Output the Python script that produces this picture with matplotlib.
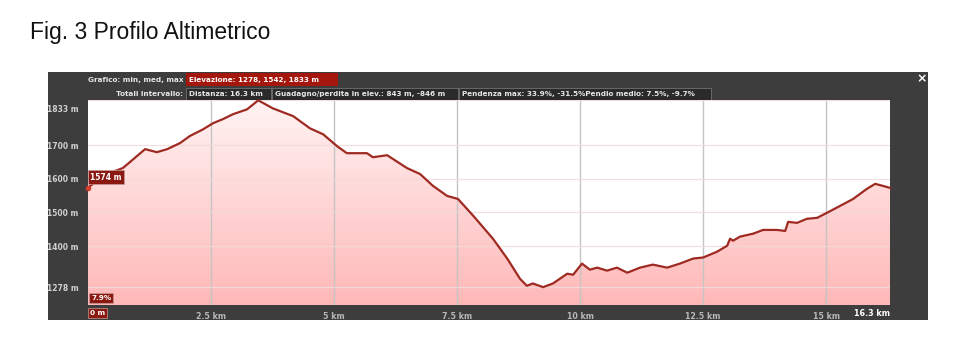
import matplotlib
matplotlib.use('Agg')
import matplotlib.pyplot as plt
import numpy as np
from matplotlib.patches import Rectangle, Polygon
from matplotlib.colors import LinearSegmentedColormap
import matplotlib.transforms as mtransforms

# ---------------- data ----------------
title = "Fig. 3 Profilo Altimetrico"
dist_km = [0, 0.24, 0.55, 0.71, 1.16, 1.40, 1.61, 1.87, 2.07, 2.34,
           2.54, 2.74, 2.95, 3.23, 3.46, 3.76, 4.17, 4.51, 4.78, 5.06,
           5.26, 5.67, 5.79, 6.08, 6.48, 6.75, 7.01, 7.30, 7.52, 7.83,
           8.23, 8.52, 8.78, 8.92, 9.04, 9.25, 9.45, 9.74, 9.86, 10.04,
           10.20, 10.35, 10.55, 10.75, 10.96, 11.22, 11.48, 11.77, 12.03, 12.30,
           12.50, 12.78, 12.99, 13.05, 13.11, 13.25, 13.52, 13.72, 14.00, 14.17,
           14.23, 14.41, 14.61, 14.82, 15.02, 15.28, 15.55, 15.83, 16.00, 16.30]
elev_m = [1574, 1599, 1623, 1632, 1688, 1679, 1688, 1706, 1727, 1747,
          1765, 1777, 1792, 1806, 1833, 1809, 1786, 1750, 1732, 1697,
          1676, 1676, 1664, 1670, 1632, 1614, 1579, 1549, 1540, 1490,
          1422, 1363, 1303, 1282, 1289, 1278, 1289, 1318, 1315, 1348,
          1330, 1336, 1327, 1336, 1321, 1336, 1345, 1336, 1348, 1363,
          1366, 1383, 1401, 1422, 1416, 1428, 1437, 1448, 1448, 1445,
          1472, 1469, 1481, 1484, 1499, 1519, 1540, 1570, 1585, 1573]
y_ticks = [1278, 1400, 1500, 1600, 1700, 1833]
x_ticks = [2.5, 5, 7.5, 10, 12.5, 15]
x_tick_labels = ["2.5 km", "5 km", "7.5 km", "10 km", "12.5 km", "15 km"]
total_km = 16.3
start_label = "0 m"
end_label = "16.3 km"
start_grade = "7.9%"
header1_label = "Grafico: min, med, max"
header1_value = "Elevazione: 1278, 1542, 1833 m"
header2_label = "Totali intervallo:"
header2_values = ["Distanza: 16.3 km",
                  "Guadagno/perdita in elev.: 843 m, -846 m",
                  "Pendenza max: 33.9%, -31.5%Pendio medio: 7.5%, -9.7%"]

# ---------------- figure ----------------
W, H = 972, 356
fig = plt.figure(figsize=(W / 100, H / 100), dpi=100)
fig.patch.set_facecolor('white')

SMALL = dict(family='DejaVu Sans', fontsize=5.2, fontweight='bold')

bg = fig.add_axes([0, 0, 1, 1], zorder=0)
bg.set_xlim(0, W)
bg.set_ylim(H, 0)
bg.axis('off')

bg.text(30, 39.5, title, fontsize=16.5, family='Liberation Sans', va='baseline', ha='left',
        color='#111111')

# dark panel
bg.add_patch(Rectangle((48, 72), 880, 248, facecolor='#3d3d3d', edgecolor='none'))

# header row 1
bg.text(88, 80, header1_label, color='#e6e6e6', va='center', ha='left', **SMALL)
bg.add_patch(Rectangle((186, 73), 152, 13, facecolor='#a5170c', edgecolor='none'))
bg.text(189, 80, header1_value, color='white', va='center', ha='left', **SMALL)

# header row 2
bg.text(183, 94, header2_label, color='#e6e6e6', va='center', ha='right', **SMALL)
box_x = [(186, 85), (272, 186), (459, 252)]
for (bx, bw), txt in zip(box_x, header2_values):
    bg.add_patch(Rectangle((bx, 88), bw, 12, facecolor='#2a2a2a', edgecolor='#707070', lw=0.6))
    bg.text(bx + 3, 94, txt, color='#e6e6e6', va='center', ha='left', **SMALL)

bg.text(922, 79, "\u00d7", color='white', fontsize=9, fontweight='bold', ha='center', va='center')

# ---------------- main plot ----------------
ax = fig.add_axes([88 / W, 1 - 305 / H, 802 / W, 205 / H], zorder=1)
ymin, ymax = 1225, 1834
ax.set_xlim(0, total_km)
ax.set_ylim(ymin, ymax)
ax.set_facecolor('white')
for s in ax.spines.values():
    s.set_visible(False)

# gradient fill under profile
grad = np.linspace(0, 1, 256).reshape(-1, 1)
cmap = LinearSegmentedColormap.from_list('pinkgrad', ['#fff3f3', '#ffb8b8'])
im = ax.imshow(grad, extent=[0, total_km, ymin, ymax], origin='upper', aspect='auto',
               cmap=cmap, zorder=1, interpolation='bilinear')
verts = list(zip(dist_km, elev_m)) + [(total_km, ymin), (0, ymin)]
poly = Polygon(verts, closed=True, facecolor='none', edgecolor='none', transform=ax.transData)
ax.add_patch(poly)
im.set_clip_path(poly)

# grid
for xv in x_ticks:
    ax.axvline(xv, color='#c4c4c4', lw=1.0, zorder=2)
for yv in y_ticks:
    ax.axhline(yv, color='#f0dada', lw=0.9, zorder=2, alpha=0.85)

ax.plot(dist_km, elev_m, color='#9e2a22', lw=1.6, zorder=4, clip_on=False,
        solid_joinstyle='round')
ax.plot(dist_km[0], elev_m[0], marker='o', ms=3, color='#d23c2c', zorder=5, clip_on=False)

# ticks
ax.set_xticks(x_ticks)
ax.set_xticklabels(x_tick_labels)
ax.set_yticks(y_ticks)
ax.set_yticklabels([f"{v} m" for v in y_ticks])
ax.tick_params(axis='both', length=0)
ax.tick_params(axis='x', pad=5, labelcolor='#b8b8b8', labelsize=5.7)
ax.tick_params(axis='y', pad=7, labelcolor='#d0d0d0', labelsize=5.5)
for lab in ax.get_xticklabels() + ax.get_yticklabels():
    lab.set_fontweight('bold')
# shift top label down inside panel
top_lab = ax.get_yticklabels()[-1]
top_lab.set_transform(top_lab.get_transform() +
                      mtransforms.ScaledTranslation(0, -8 / 100, fig.dpi_scale_trans))

box_style = dict(boxstyle='square,pad=0.3', fc='#8a1a11', ec='#c89a9a', lw=0.5)
ax.annotate(f"{elev_m[0]} m", xy=(dist_km[0], elev_m[0]), xytext=(2, 6),
            textcoords='offset pixels', ha='left', va='bottom', color='white',
            bbox=box_style, zorder=6, annotation_clip=False,
            family='DejaVu Sans', fontsize=5.5, fontweight='bold')
ax.annotate(start_grade, xy=(0, 0), xycoords='axes fraction', xytext=(3, 4),
            textcoords='offset pixels', ha='left', va='bottom', color='white',
            bbox=box_style, zorder=6, annotation_clip=False, **SMALL)
ax.annotate(start_label, xy=(0, 0), xycoords='axes fraction', xytext=(2, -5),
            textcoords='offset pixels', ha='left', va='top', color='white',
            bbox=box_style, zorder=6, annotation_clip=False, **SMALL)
ax.annotate(end_label, xy=(1, 0), xycoords='axes fraction', xytext=(0, -8),
            textcoords='offset pixels', ha='right', va='center', color='white',
            zorder=6, annotation_clip=False, family='DejaVu Sans', fontsize=5.8,
            fontweight='bold')

fig.savefig('out.png', dpi=100, facecolor='white')
